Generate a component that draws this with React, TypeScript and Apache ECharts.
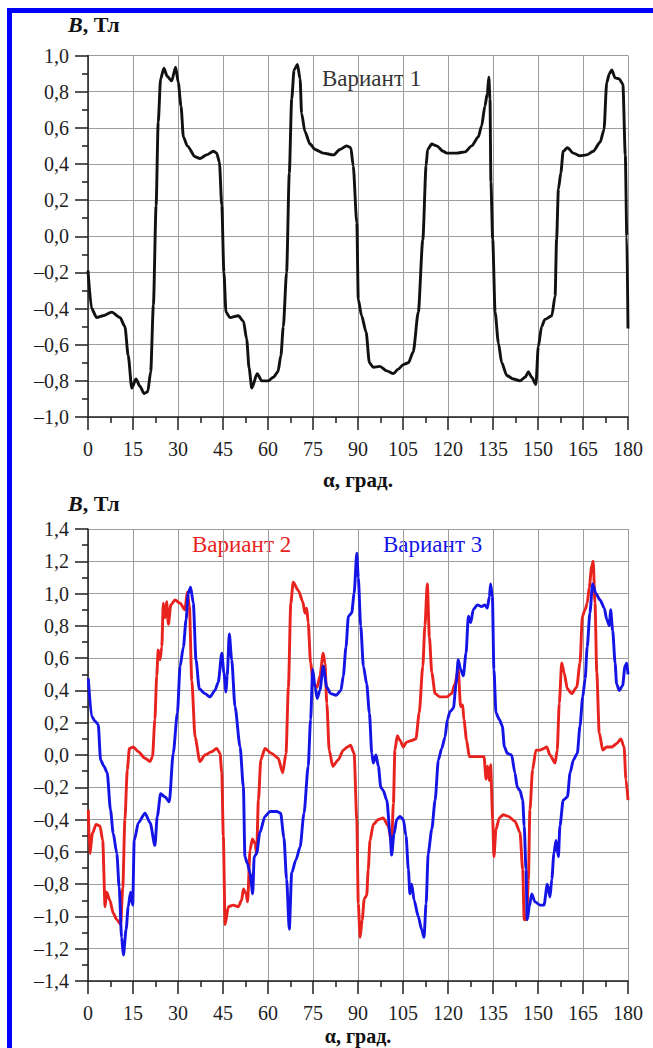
import React, { useEffect, useRef } from "react";
import * as echarts from "echarts";

// ---- Variant 1 (top chart) ----
const alpha1 = [0, 1.2, 2.9, 5, 7.9, 10.7, 12.3, 13.4, 14.6, 16, 17.3, 18.7, 19.9, 20.9, 21.8, 22.7, 23.4, 24.2, 25.3, 26.4, 27.9, 29.2, 30.1, 31, 31.8, 33.1, 35.7, 37.3, 39.5, 41.8, 42.9, 43.8, 44.6, 45.3, 46, 47.3, 50.1, 51.8, 52.9, 53.7, 54.6, 56.4, 57.9, 60.1, 61.8, 63.3, 64.3, 65.1, 66.2, 67.1, 67.9, 68.7, 69.8, 70.7, 71.2, 72.3, 74, 75.7, 78.4, 81.8, 84, 86.2, 87.6, 88.4, 89.6, 90.1, 91.2, 92.7, 93.8, 95.1, 97.3, 99.6, 101.8, 103.4, 105.1, 106.8, 108.4, 110.1, 111.6, 112.7, 113.2, 114.6, 116.2, 118.4, 119.6, 122.9, 125.7, 127.9, 130.1, 131.2, 132.3, 133.1, 133.6, 134, 134.3, 134.9, 135.7, 136.8, 137.9, 139.6, 141.8, 144, 145.7, 146.8, 147.9, 149.3, 150.1, 151.2, 152.3, 154.6, 155.7, 156.2, 156.8, 157.6, 158.4, 159.8, 161.8, 164, 166.2, 168.4, 170.7, 172, 172.9, 173.8, 174.6, 175.7, 177.1, 178.3, 179.1, 179.6, 180];
const b1 = [-0.19, -0.4, -0.45, -0.44, -0.42, -0.45, -0.5, -0.66, -0.84, -0.79, -0.83, -0.87, -0.86, -0.75, -0.38, 0.17, 0.63, 0.87, 0.93, 0.885, 0.86, 0.935, 0.85, 0.72, 0.55, 0.5, 0.44, 0.43, 0.45, 0.47, 0.46, 0.41, 0.17, -0.2, -0.42, -0.45, -0.44, -0.47, -0.57, -0.73, -0.84, -0.76, -0.8, -0.8, -0.78, -0.75, -0.66, -0.5, -0.2, 0.35, 0.76, 0.92, 0.95, 0.87, 0.68, 0.58, 0.51, 0.48, 0.46, 0.45, 0.48, 0.5, 0.49, 0.39, 0.075, -0.35, -0.44, -0.53, -0.7, -0.725, -0.72, -0.745, -0.76, -0.735, -0.71, -0.7, -0.64, -0.42, -0.02, 0.39, 0.48, 0.51, 0.5, 0.47, 0.46, 0.46, 0.467, 0.5, 0.55, 0.61, 0.72, 0.79, 0.88, 0.76, 0.3, -0.015, -0.42, -0.59, -0.7, -0.77, -0.79, -0.8, -0.78, -0.75, -0.78, -0.82, -0.61, -0.5, -0.46, -0.44, -0.33, -0.015, 0.26, 0.35, 0.47, 0.49, 0.46, 0.445, 0.45, 0.47, 0.52, 0.59, 0.85, 0.9, 0.92, 0.876, 0.87, 0.84, 0.45, 0.0, -0.51];

// ---- Variant 2 (bottom chart, red) ----
const alpha2 = [0.1, 0.6, 1.5, 2.7, 4, 4.9, 5.7, 6.2, 7.3, 8.4, 9.6, 10.9, 11.6, 12.3, 13.1, 13.8, 15.1, 16.8, 19, 20.7, 21.5, 22.3, 22.9, 23.4, 24, 24.6, 25.1, 25.7, 26.2, 26.8, 27.6, 29, 30.7, 32.3, 33.1, 33.8, 34.6, 35.7, 37.3, 39, 41.2, 42.9, 44, 44.6, 45.1, 45.7, 46.8, 48.4, 50.1, 51.2, 51.8, 52.7, 53.2, 54, 54.8, 55.7, 56.2, 56.8, 57.6, 59, 61.2, 63.4, 64.9, 66, 66.8, 67.6, 68.4, 70.1, 71.6, 72.3, 72.9, 73.4, 74.2, 75.1, 76.4, 77.3, 78.4, 79, 79.6, 80.4, 81.6, 83.4, 85.1, 86.5, 87.5, 88.7, 89.6, 90.1, 90.7, 91.4, 92.1, 92.9, 93.4, 94, 95.1, 96.8, 98.4, 100.1, 101.2, 101.8, 102.3, 103.1, 104, 105.1, 106.2, 107.9, 109.3, 110.4, 111.6, 112.3, 113.1, 113.8, 114.6, 115.7, 117.3, 119.6, 121.2, 122.3, 123.4, 124.2, 124.9, 125.3, 126.2, 127.1, 128.4, 130.7, 132, 132.7, 133.2, 133.8, 134.2, 134.9, 135.3, 136, 137.1, 138.4, 140.1, 142.3, 144, 144.9, 145.4, 146.2, 146.8, 147.3, 148.2, 149.3, 150.7, 152, 152.9, 154, 155.7, 156.4, 157.1, 157.9, 158.7, 159.8, 161.2, 162.9, 164, 164.8, 165.7, 166.4, 167.1, 167.9, 168.4, 169, 169.6, 170.4, 171.6, 172.9, 174.6, 176.2, 177.6, 178.7, 179.3, 180];
const b2 = [-0.34, -0.61, -0.485, -0.43, -0.44, -0.53, -0.94, -0.85, -0.9, -0.98, -1.02, -1.05, -0.82, -0.4, -0.09, 0.04, 0.05, 0.02, -0.02, -0.04, -0.01, 0.22, 0.49, 0.65, 0.59, 0.67, 0.94, 0.85, 0.95, 0.81, 0.93, 0.96, 0.94, 0.9, 1.01, 0.92, 0.46, 0.11, -0.04, 0.0, 0.02, 0.04, 0.01, -0.11, -0.5, -1.05, -0.94, -0.93, -0.94, -0.9, -0.83, -0.86, -0.91, -0.59, -0.52, -0.55, -0.61, -0.28, -0.03, 0.04, 0.01, -0.02, -0.11, 0.01, 0.42, 0.94, 1.07, 1.02, 0.95, 0.88, 0.91, 0.82, 0.57, 0.44, 0.42, 0.49, 0.63, 0.57, 0.32, 0.03, -0.07, -0.03, 0.03, 0.05, 0.06, 0.01, -0.4, -0.92, -1.13, -1.02, -0.89, -0.87, -0.71, -0.53, -0.43, -0.4, -0.39, -0.44, -0.55, -0.3, 0.03, 0.12, 0.09, 0.05, 0.08, 0.09, 0.1, 0.26, 0.55, 0.8, 1.06, 0.73, 0.51, 0.38, 0.36, 0.36, 0.38, 0.44, 0.53, 0.3, 0.31, 0.22, 0.09, -0.01, -0.01, -0.01, -0.01, -0.15, -0.07, -0.16, -0.06, -0.4, -0.63, -0.46, -0.39, -0.37, -0.38, -0.41, -0.48, -0.71, -1.02, -1.02, -0.77, -0.34, -0.09, 0.03, 0.03, 0.04, 0.05, 0.0, -0.05, 0.03, 0.32, 0.57, 0.51, 0.41, 0.38, 0.42, 0.57, 0.86, 0.9, 0.94, 1.04, 1.17, 1.2, 0.94, 0.51, 0.14, 0.03, 0.05, 0.05, 0.07, 0.1, 0.05, -0.15, -0.28];

// ---- Variant 3 (bottom chart, blue) ----
const alpha3 = [0.1, 1.2, 2.3, 3.4, 4.2, 5.3, 6.4, 7.5, 8.4, 9.6, 10.4, 11.2, 11.8, 12.7, 13.4, 14.2, 14.9, 15.4, 16.8, 19, 20.7, 22.3, 23.1, 24.2, 25.7, 27.1, 28.4, 29.8, 30.7, 31.8, 32.7, 33.4, 34.2, 35.1, 36, 37.1, 39, 40.7, 42.3, 43.4, 44.6, 45.3, 46, 46.4, 47.1, 47.9, 49, 50.7, 51.8, 52.3, 53.1, 54, 54.9, 55.4, 56.2, 57.3, 59, 60.7, 62.9, 64.2, 65.3, 66.2, 67.1, 67.9, 69.3, 70.7, 72, 73.4, 74.2, 74.9, 75.7, 76.4, 77.3, 78.4, 79.6, 80.9, 82.7, 84.3, 85.1, 86, 86.8, 87.9, 88.7, 89.6, 90.1, 90.9, 91.8, 92.9, 93.8, 94.6, 95.1, 96, 96.8, 97.6, 98.4, 99.6, 100.7, 101.2, 102, 102.9, 104, 105.1, 106, 106.8, 107.3, 107.9, 108.7, 110.1, 111.2, 112, 112.7, 113.4, 114.6, 115.7, 116.8, 117.9, 119, 119.8, 120.7, 121.8, 122.7, 123.4, 124.2, 125.1, 126, 126.8, 127.6, 128.4, 129.8, 131.2, 132.3, 133.1, 133.8, 134.2, 134.8, 135.3, 136, 137.1, 138.1, 138.8, 139.8, 141.2, 142.3, 143.1, 144, 144.9, 145.4, 146, 146.4, 147.1, 147.9, 149, 150.7, 152, 153.1, 154, 154.6, 155.3, 156, 156.8, 157.3, 158.4, 159.8, 160.7, 161.8, 163.1, 164, 164.9, 165.7, 166.4, 167.3, 168.2, 169.3, 170.7, 172.1, 172.9, 173.8, 174.2, 174.9, 175.7, 176.2, 177.1, 178.2, 179, 179.6, 180];
const b3 = [0.475, 0.24, 0.21, 0.19, -0.03, -0.07, -0.11, -0.34, -0.485, -0.61, -0.82, -1.13, -1.24, -1.08, -0.94, -0.85, -0.93, -0.53, -0.42, -0.36, -0.42, -0.56, -0.38, -0.24, -0.26, -0.29, 0.01, 0.26, 0.55, 0.67, 0.84, 1.0, 1.04, 0.94, 0.59, 0.41, 0.38, 0.36, 0.4, 0.45, 0.63, 0.51, 0.39, 0.49, 0.75, 0.59, 0.3, 0.05, -0.2, -0.63, -0.67, -0.73, -0.86, -0.63, -0.61, -0.48, -0.38, -0.35, -0.35, -0.36, -0.51, -0.77, -1.08, -0.73, -0.65, -0.57, -0.36, -0.07, 0.22, 0.53, 0.42, 0.35, 0.4, 0.55, 0.42, 0.38, 0.37, 0.4, 0.49, 0.67, 0.86, 0.88, 1.0, 1.25, 1.1, 0.8, 0.55, 0.44, 0.26, 0.01, -0.05, 0.0, -0.07, -0.2, -0.22, -0.28, -0.49, -0.62, -0.49, -0.4, -0.38, -0.4, -0.5, -0.71, -0.86, -0.8, -0.9, -1.0, -1.08, -1.13, -0.92, -0.61, -0.46, -0.28, -0.03, 0.04, 0.11, 0.22, 0.27, 0.29, 0.44, 0.59, 0.53, 0.49, 0.63, 0.86, 0.82, 0.9, 0.93, 0.92, 0.93, 0.91, 0.98, 1.06, 0.98, 0.53, 0.26, 0.22, 0.18, 0.05, 0.01, 0.0, -0.11, -0.2, -0.22, -0.28, -0.44, -0.71, -1.02, -0.94, -0.86, -0.91, -0.93, -0.93, -0.8, -0.88, -0.77, -0.61, -0.53, -0.63, -0.44, -0.28, -0.26, -0.11, -0.03, 0.01, 0.18, 0.36, 0.47, 0.67, 0.88, 1.06, 1.0, 0.96, 0.91, 0.84, 0.8, 0.9, 0.77, 0.57, 0.44, 0.4, 0.43, 0.55, 0.57, 0.5];

const FONT = "Liberation Serif, Times New Roman, serif";
const AX = "#1e1e1e";
const GRIDC = "#9c9c9c";
const RED = "#e8231e";
const BLUE = "#1414e6";

const fmtY = (v: number) => {
  const r = Math.round(v * 10) / 10;
  const s = Math.abs(r).toFixed(1).replace(".", ",");
  return r < 0 ? "\u2013" + s : s;
};

const pairs = (xs: number[], ys: number[]) => xs.map((x, i) => [x, ys[i]]);

function xAxisFor(gridIndex: number) {
  return {
    type: "value",
    gridIndex,
    min: 0,
    max: 180,
    interval: 15,
    axisLine: { show: true, onZero: false, lineStyle: { color: AX, width: 1.5 } },
    axisTick: { show: true, length: 13, lineStyle: { color: AX, width: 1.5 } },
    minorTick: { show: true, splitNumber: 2, length: 6, lineStyle: { color: AX, width: 1.5 } },
    splitLine: { show: true, lineStyle: { color: GRIDC, width: 1 } },
    axisLabel: { margin: 22, fontSize: 20, color: AX, fontFamily: FONT },
  };
}

function yAxisFor(gridIndex: number, min: number, max: number) {
  return {
    type: "value",
    gridIndex,
    min,
    max,
    interval: 0.2,
    axisLine: { show: true, onZero: false, lineStyle: { color: AX, width: 1.5 } },
    axisTick: { show: true, length: 13, lineStyle: { color: AX, width: 1.5 } },
    minorTick: { show: true, splitNumber: 2, length: 6, lineStyle: { color: AX, width: 1.5 } },
    splitLine: { show: true, lineStyle: { color: GRIDC, width: 1 } },
    axisLabel: { margin: 19, fontSize: 20, color: AX, fontFamily: FONT, formatter: fmtY },
  };
}

function axisTitle(x: number, y: number) {
  return {
    type: "text",
    x,
    y,
    style: {
      text: "{i|B}{b|, Тл}",
      align: "left",
      verticalAlign: "middle",
      fill: "#111",
      fontFamily: FONT,
      fontSize: 21,
      fontWeight: "bold",
      rich: {
        i: { fontFamily: FONT, fontSize: 22, fontWeight: "bold", fontStyle: "italic", fill: "#111" },
        b: { fontFamily: FONT, fontSize: 22, fontWeight: "bold", fill: "#111" },
      },
    },
  };
}

function plainText(text: string, x: number, y: number, fill: string, size: number, bold: boolean, align: string) {
  return {
    type: "text",
    x,
    y,
    style: {
      text,
      fill,
      fontFamily: FONT,
      fontSize: size,
      fontWeight: bold ? "bold" : "normal",
      align,
      verticalAlign: "middle",
    },
  };
}

export default function App() {
  const ref = useRef<HTMLDivElement>(null);
  useEffect(() => {
    if (!ref.current) return;
    const chart = echarts.init(ref.current, undefined, { renderer: "svg" });
    const lineBase = { type: "line", showSymbol: false, smooth: 0.25, smoothMonotone: "x", animation: false };
    chart.setOption({
      animation: false,
      backgroundColor: "#ffffff",
      textStyle: { fontFamily: FONT },
      grid: [
        { left: 88, width: 540, top: 55.5, height: 361.5 },
        { left: 88, width: 540, top: 529, height: 452 },
      ],
      xAxis: [xAxisFor(0), xAxisFor(1)],
      yAxis: [yAxisFor(0, -1.0, 1.0), yAxisFor(1, -1.4, 1.4)],
      series: [
        { ...lineBase, name: "Вариант 1", xAxisIndex: 0, yAxisIndex: 0, data: pairs(alpha1, b1), lineStyle: { color: "#111", width: 2.9 }, itemStyle: { color: "#111" } },
        { ...lineBase, name: "Вариант 2", xAxisIndex: 1, yAxisIndex: 1, data: pairs(alpha2, b2), lineStyle: { color: RED, width: 2.9 }, itemStyle: { color: RED } },
        { ...lineBase, name: "Вариант 3", xAxisIndex: 1, yAxisIndex: 1, data: pairs(alpha3, b3), lineStyle: { color: BLUE, width: 2.9 }, itemStyle: { color: BLUE } },
      ],
      graphic: [
        { type: "rect", shape: { x: 7, y: 8, width: 646, height: 5 }, style: { fill: "#0000ff" }, z: 100 },
        { type: "rect", shape: { x: 7, y: 8, width: 5, height: 1040 }, style: { fill: "#0000ff" }, z: 100 },
        axisTitle(68, 24),
        axisTitle(68, 503),
        plainText("α, град.", 358, 480, "#111", 21, true, "center"),
        plainText("α, град.", 358, 1036, "#111", 20, true, "center"),
        plainText("Вариант 1", 322, 78, "#333", 23, false, "left"),
        plainText("Вариант 2", 192, 544, RED, 23, false, "left"),
        plainText("Вариант 3", 383, 544, BLUE, 23, false, "left"),
      ],
    });
    return () => chart.dispose();
  }, []);
  return (
    <div
      ref={ref}
      style={{ position: "absolute", left: 0, top: 0, width: 653, height: 1048, background: "#fff" }}
    />
  );
}
